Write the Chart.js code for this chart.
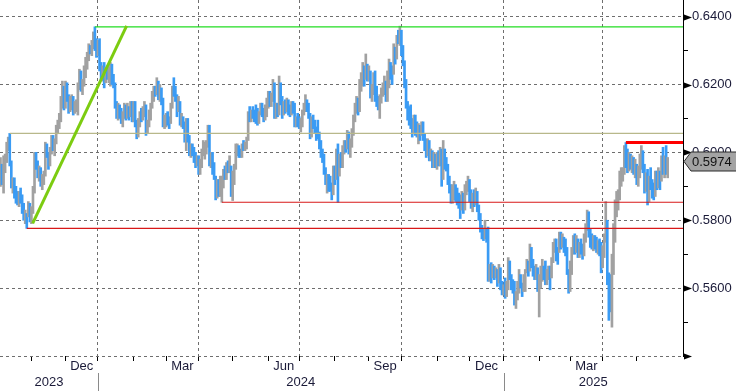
<!DOCTYPE html>
<html><head><meta charset="utf-8">
<script src="https://cdn.jsdelivr.net/npm/chart.js@4.4.1/dist/chart.umd.min.js"></script>
<style>html,body{margin:0;padding:0;background:#fff;overflow:hidden}canvas{display:block}</style>
</head><body>
<canvas id="c" width="736" height="391"></canvas>
<script>
// Daily bars (pips, e.g. 5950 = 0.5950), first bar Wed 4 Oct 2023, one per weekday
const lows = [
5900,5905,5880,5940,5970,6005,5960,5895,5880,5865,5850,5845,5840,5850,5820,5800,5790,5776,5810,5795,
5790,5820,5880,5950,5925,5915,5900,5890,5905,5930,5985,5950,5960,5995,6005,5990,6025,6055,6070,6090,6130,6125,
6130,6150,6115,6120,6125,6110,6115,6120,6110,6185,6180,6170,6195,6220,6245,6270,6290,6285,6305,6300,6280,
6285,6240,6215,6210,6190,6205,6215,6205,6195,6200,6190,6130,6100,6095,6100,6085,6075,6100,6095,6100,6095,6105,6090,
6090,6075,6040,6045,6075,6090,6095,6105,6050,6055,6075,6095,6130,6150,6165,6170,6155,6150,6140,6075,6070,
6075,6080,6070,6085,6130,6165,6150,6105,6120,6080,6075,6070,6030,6005,6030,5990,5985,5990,5970,5955,5960,
5935,5935,5955,5990,5980,5995,6015,5960,5955,5935,5920,5860,5865,5870,5870,5853,5895,5920,5920,5940,5940,5870,
5858,5905,5950,5990,5985,5985,5985,6005,6005,6010,6035,6090,6090,6100,6090,6085,6080,6085,6110,6105,6090,6095,6105,
6130,6135,6135,6150,6100,6100,6105,6110,6140,6100,6110,6115,6120,6110,6105,6110,6115,6075,6075,6075,
6070,6060,6075,6110,6120,6120,6100,6040,6045,6070,6055,6035,6040,6010,5985,5970,5935,5905,5880,5885,5885,5860,5875,
5905,5920,5853,5930,5955,5955,5995,6000,6010,5995,5985,6015,6050,6090,6115,6110,6120,6180,6195,6195,6215,6210,
6210,6160,6150,6170,6150,6135,6125,6100,6145,6165,6170,6150,6150,6190,6215,6200,6230,6260,6275,6320,6315,
6285,6255,6190,6130,6095,6080,6070,6045,6055,6050,6045,6025,6035,6050,6035,6005,5985,5990,5975,5975,5955,5955,5955,
5950,5960,5960,5900,5920,5950,5945,5905,5880,5850,5850,5860,5855,5845,5835,5805,5830,5820,5830,5875,5885,
5855,5835,5825,5840,5845,5825,5800,5765,5745,5740,5745,5735,5620,5620,5615,5630,5625,5630,5605,5615,5595,5580,
5580,5570,5575,5595,5625,5595,5585,5550,5540,5565,5585,5600,5575,5590,5590,5645,5635,5650,5660,5635,5625,5625,5590,
5515,5600,5620,5625,5610,5610,5625,5595,5630,5675,5705,5680,5670,5705,5715,5720,5705,5695,5640,5585,
5590,5640,5700,5700,5705,5690,5690,5700,5685,5695,5735,5770,5750,5720,5715,5710,5715,5705,5700,5695,5645,
5660,5690,5735,5610,5505,5530,5485,5640,5735,5810,5830,5860,5900,5915,5935,5955,5940,5945,5950,5940,5935,5925,
5905,5900,5925,5950,5940,5880,5885,5845,5855,5890,5865,5860,5870,5890,5895,5890,5915,5935,5925,5935,5925
];
const highs = [
5985,5965,5990,5995,6030,6045,6056,5975,5925,5925,5900,5885,5885,5895,5875,5850,5830,5820,5855,5850,
5840,5900,6000,6000,5975,5960,5955,5935,5945,6030,6025,6000,6015,6050,6050,6040,6080,6095,6115,6165,6210,6195,
6210,6205,6170,6165,6170,6165,6150,6155,6205,6245,6240,6215,6255,6280,6295,6320,6315,6330,6355,6370,6335,
6330,6335,6265,6255,6265,6250,6255,6250,6265,6260,6230,6205,6150,6145,6140,6130,6120,6145,6140,6145,6135,6150,6150,
6150,6150,6095,6100,6120,6130,6135,6150,6140,6095,6125,6145,6180,6195,6195,6220,6210,6200,6190,6160,6110,
6115,6120,6105,6145,6195,6220,6195,6170,6165,6150,6115,6105,6090,6100,6100,6050,6025,6025,6015,6000,5990,
5990,5980,6010,6035,6030,6035,6080,6080,6000,6000,5970,5930,5920,5920,5930,5930,5950,5960,5970,5975,5990,5960,
5945,5965,6025,6025,6020,6010,6025,6035,6030,6045,6120,6135,6125,6135,6125,6140,6130,6120,6145,6145,6130,6140,6160,
6180,6180,6175,6215,6205,6145,6145,6225,6205,6165,6150,6155,6160,6155,6140,6150,6150,6145,6105,6115,
6105,6100,6125,6145,6170,6155,6145,6115,6105,6110,6095,6075,6095,6060,6035,6010,5995,5955,5935,5935,5930,5910,5960,
5960,6010,6025,5995,6000,6020,6035,6035,6065,6060,6040,6070,6110,6145,6165,6160,6215,6235,6265,6255,6290,6260,
6255,6240,6200,6235,6240,6195,6165,6170,6190,6205,6225,6210,6240,6275,6265,6255,6320,6310,6345,6360,6372,
6360,6315,6270,6215,6150,6135,6140,6100,6110,6110,6090,6085,6080,6090,6090,6055,6040,6040,6035,6010,6005,6000,5995,
6000,6005,6015,6010,6035,6010,5985,5965,5930,5905,5905,5915,5905,5895,5880,5875,5885,5880,5905,5915,5930,
5920,5890,5880,5890,5895,5885,5845,5820,5785,5775,5800,5775,5780,5670,5675,5670,5665,5660,5655,5670,5660,5620,
5610,5630,5620,5690,5680,5640,5625,5620,5590,5620,5655,5640,5615,5640,5655,5685,5680,5730,5720,5685,5665,5670,5660,
5640,5665,5685,5665,5680,5655,5665,5665,5690,5735,5745,5745,5720,5765,5765,5760,5750,5745,5720,5655,
5680,5720,5755,5760,5755,5745,5735,5745,5730,5760,5790,5830,5825,5775,5760,5755,5755,5750,5740,5745,5735,
5725,5760,5855,5800,5645,5640,5700,5790,5860,5885,5890,5945,5955,5955,6020,6029,6010,6000,5995,5990,5985,5980,
5965,5960,5995,6020,6005,5965,5940,5950,5930,5955,5920,5910,5945,5945,5955,5945,5990,6015,5990,6020,5985
];
const closes = [
5950,5920,5975,5985,6025,6035,5970,5905,5915,5880,5860,5855,5870,5865,5830,5810,5815,5805,5830,5800,
5830,5890,5985,5960,5935,5950,5910,5920,5935,6020,5995,5960,6005,6040,6015,6030,6070,6085,6105,6150,6180,6135,
6195,6160,6125,6140,6160,6120,6130,6135,6195,6230,6195,6205,6245,6265,6285,6310,6300,6320,6345,6315,6290,
6320,6250,6225,6240,6215,6240,6225,6235,6245,6220,6200,6140,6110,6130,6110,6095,6115,6130,6105,6120,6110,6140,6100,
6140,6090,6055,6090,6110,6105,6125,6130,6065,6085,6115,6135,6170,6185,6175,6195,6165,6180,6150,6085,6090,
6100,6090,6085,6135,6185,6180,6160,6120,6145,6090,6100,6080,6040,6090,6040,6000,6015,6005,5985,5965,5975,
5945,5970,6000,6010,6020,6025,6065,5970,5985,5945,5930,5870,5905,5885,5900,5915,5940,5935,5960,5950,5965,5880,
5930,5950,6005,6015,5995,5990,6020,6015,6025,6040,6110,6100,6115,6110,6100,6095,6090,6115,6135,6115,6100,6130,6140,
6165,6145,6160,6200,6110,6130,6120,6190,6155,6115,6140,6130,6145,6120,6115,6140,6130,6085,6090,6085,
6080,6090,6115,6135,6160,6130,6110,6055,6095,6080,6065,6055,6050,6020,5995,5985,5945,5915,5925,5900,5895,5885,5950,
5920,5995,5960,5975,5965,6010,6025,6010,6055,6010,6025,6060,6100,6135,6155,6120,6205,6210,6245,6225,6240,6220,
6225,6170,6185,6205,6165,6150,6140,6160,6180,6190,6210,6165,6215,6255,6250,6225,6305,6280,6335,6330,6345,
6300,6265,6210,6140,6110,6100,6080,6060,6100,6065,6055,6075,6045,6080,6045,6020,5995,6030,5985,5995,5970,5990,5965,
5985,5975,6000,5915,6020,5965,5955,5915,5895,5860,5890,5905,5870,5855,5845,5830,5875,5835,5890,5900,5915,
5865,5850,5870,5855,5880,5835,5810,5775,5760,5750,5765,5745,5635,5660,5640,5655,5640,5645,5620,5650,5610,5595,
5600,5580,5610,5660,5635,5605,5600,5560,5575,5610,5630,5615,5590,5625,5645,5660,5650,5715,5675,5645,5640,5650,5600,
5630,5655,5660,5640,5625,5645,5650,5640,5680,5725,5735,5700,5690,5750,5730,5740,5715,5710,5650,5595,
5670,5710,5745,5715,5740,5700,5725,5715,5695,5750,5780,5815,5765,5735,5725,5740,5725,5720,5730,5710,5665,
5710,5745,5780,5630,5560,5545,5660,5770,5845,5860,5870,5930,5940,5945,6005,5980,5960,5990,5965,5975,5950,5965,
5915,5950,5980,6005,5955,5895,5925,5860,5915,5905,5880,5870,5930,5905,5945,5910,5980,5965,5975,5945,5974
];
const firstBarDate = [2023, 9, 4];               // year, month (0-based), day
const monthNames = ['Jan','Feb','Mar','Apr','May','Jun','Jul','Aug','Sep','Oct','Nov','Dec'];
const labelledMonths = [2, 5, 8, 11];             // Mar, Jun, Sep, Dec
const yTickValues = [0.54,0.55,0.56,0.57,0.58,0.59,0.60,0.61,0.62,0.63,0.64];
const yLabelledValues = [0.56,0.58,0.60,0.62,0.64];
const levelValues = [0.6370, 0.6056, 0.6029, 0.5853, 0.5776];
const levelStartBars = [61, 6, 404, 143, 17];
const trendBars = [20.8, 81.5];
const trendValues = [0.5791, 0.6373];

// styles / layout
const X_MIN = -0.3, X_MAX = 440.9, Y_MIN = 0.54, Y_MAX = 0.6449;
const GRAY = '#a1a1a1', BLUE = '#3a9bf4', TEXT = '#1a1a38', GRID = '#6e6e6e';
const levelStyles = [
  {color:'#22dd22', width:1.2},
  {color:'#b8b88a', width:1.2},
  {color:'#ff0000', width:3},
  {color:'#d81818', width:1.2},
  {color:'#d81818', width:1.2}
];

// calendar of bars (weekdays)
const barDates = [];
{
  const d = new Date(Date.UTC(firstBarDate[0], firstBarDate[1], firstBarDate[2]));
  while (barDates.length < closes.length) {
    const w = d.getUTCDay();
    if (w !== 0 && w !== 6) barDates.push([d.getUTCFullYear(), d.getUTCMonth()]);
    d.setUTCDate(d.getUTCDate() + 1);
  }
}
const monthStarts = [];
barDates.forEach((ym, i) => {
  if (i === 0 || ym[1] !== barDates[i-1][1]) monthStarts.push({i, y: ym[0], m: ym[1]});
});
const xTicks = [];
monthStarts.forEach((ms, k) => {
  if (ms.i > 0) xTicks.push({value: ms.i, kind: 'm', q: ms.m % 3 === 0, lbl: ''});
  if (labelledMonths.includes(ms.m)) {
    const next = k + 1 < monthStarts.length ? monthStarts[k+1].i : closes.length;
    xTicks.push({value: (ms.i + next) / 2, kind: 'l', lbl: monthNames[ms.m]});
  }
});
const yearStarts = monthStarts.filter(ms => ms.m === 0 && ms.i > 0).map(ms => ms.i);
const yearBounds = [X_MIN, ...yearStarts, X_MAX];
for (let k = 0; k < yearBounds.length - 1; k++) {
  xTicks.push({value: (yearBounds[k] + yearBounds[k+1]) / 2, kind: 'y', lbl: ['', String(barDates[0][0] + k)]});
}
xTicks.sort((a, b) => a.value - b.value);

const barData = closes.map((c, i) => ({x: i, y: [lows[i] / 1e4, highs[i] / 1e4]}));
const barColors = closes.map((c, i) => c >= (i ? closes[i-1] : c) ? GRAY : BLUE);

const datasets = [{
  type: 'bar', data: barData, backgroundColor: barColors, borderWidth: 0,
  barThickness: 2, order: 5
}];
levelValues.forEach((v, k) => {
  datasets.push({type: 'line', data: [{x: levelStartBars[k], y: v}, {x: X_MAX, y: v}],
    borderColor: levelStyles[k].color, borderWidth: levelStyles[k].width, pointRadius: 0, order: 2});
});
datasets.push({type: 'line', data: [{x: trendBars[0], y: trendValues[0]}, {x: trendBars[1], y: trendValues[1]}],
  borderColor: '#7ccc10', borderWidth: 3, pointRadius: 0, order: 1});

const isMajorY = v => Math.round(v * 100) % 2 === 0;

const decor = {
  id: 'decor',
  afterDraw(chart) {
    const {ctx, scales: {x, y}, chartArea} = chart;
    ctx.save();
    ctx.fillStyle = '#000';
    yTickValues.filter(isMajorY).forEach(v => {
      const py = Math.round(y.getPixelForValue(v)) + 0.5;
      ctx.beginPath();
      ctx.moveTo(chartArea.right + 1, py - 3);
      ctx.lineTo(chartArea.right + 9, py);
      ctx.lineTo(chartArea.right + 1, py + 3);
      ctx.closePath(); ctx.fill();
    });
    ctx.strokeStyle = '#8a8a8a'; ctx.lineWidth = 1;
    yearStarts.forEach(i => {
      const px = Math.round(x.getPixelForValue(i)) + 0.5;
      ctx.beginPath(); ctx.moveTo(px, chartArea.bottom + 17); ctx.lineTo(px, chart.height); ctx.stroke();
    });
    const last = closes[closes.length - 1] / 1e4;
    const py = Math.round(y.getPixelForValue(last)) + 0.5;
    const x0 = chartArea.right + 1;
    ctx.beginPath();
    ctx.moveTo(x0, py);
    ctx.lineTo(x0 + 7, py - 9.5);
    ctx.lineTo(chart.width + 2, py - 9.5);
    ctx.lineTo(chart.width + 2, py + 9.5);
    ctx.lineTo(x0 + 7, py + 9.5);
    ctx.closePath();
    ctx.fillStyle = '#a3a3a3'; ctx.fill();
    ctx.strokeStyle = '#2a2a2a'; ctx.lineWidth = 1; ctx.stroke();
    ctx.fillStyle = '#111'; ctx.font = '13px "Liberation Sans"';
    ctx.textBaseline = 'middle'; ctx.textAlign = 'left';
    ctx.fillText(last.toFixed(4), x0 + 8, py + 0.5);
    ctx.restore();
  }
};

Chart.defaults.font.family = '"Liberation Sans", Arial, sans-serif';
Chart.defaults.font.size = 13;

new Chart(document.getElementById('c'), {
  type: 'bar',
  data: {datasets},
  options: {
    responsive: false, animation: false, devicePixelRatio: 1, events: [],
    layout: {padding: 0},
    plugins: {legend: {display: false}, tooltip: {enabled: false}},
    scales: {
      x: {
        type: 'linear', min: X_MIN, max: X_MAX, offset: false,
        afterBuildTicks: s => { s.ticks = xTicks.map(t => Object.assign({}, t)); },
        afterFit: s => { s.height = 35; s.paddingLeft = 0; s.paddingRight = 0; },
        grid: {
          offset: false, drawOnChartArea: true, tickLength: 5, lineWidth: 1,
          color: c => (c.tick && c.tick.q) ? GRID : 'rgba(0,0,0,0)',
          tickColor: c => (c.tick && c.tick.kind === 'm') ? '#000' : 'rgba(0,0,0,0)',
          borderDash: [3, 3]
        },
        border: {display: false, dash: [3, 3]},
        ticks: {
          autoSkip: false, maxRotation: 0, minRotation: 0, padding: -2, color: TEXT,
          font: {size: 13, lineHeight: 1.2},
          callback: (v, i, ticks) => ticks[i].lbl
        }
      },
      y: {
        position: 'right', min: Y_MIN, max: Y_MAX,
        afterBuildTicks: s => { s.ticks = yTickValues.map(v => ({value: v})); },
        afterFit: s => { s.width = 53; s.paddingTop = 0; s.paddingBottom = 0; },
        grid: {
          tickLength: 5, lineWidth: 1,
          color: c => (c.tick && isMajorY(c.tick.value)) ? GRID : 'rgba(0,0,0,0)',
          tickColor: c => (c.tick && !isMajorY(c.tick.value)) ? '#000' : 'rgba(0,0,0,0)',
          borderDash: [3, 3]
        },
        border: {display: true, color: '#000', width: 1, dash: [3, 3]},
        ticks: {
          padding: 4, color: TEXT, font: {size: 13},
          callback: v => yLabelledValues.some(l => Math.abs(l - v) < 1e-6) ? v.toFixed(4) : ''
        }
      }
    }
  },
  plugins: [decor]
});
</script>
</body></html>
